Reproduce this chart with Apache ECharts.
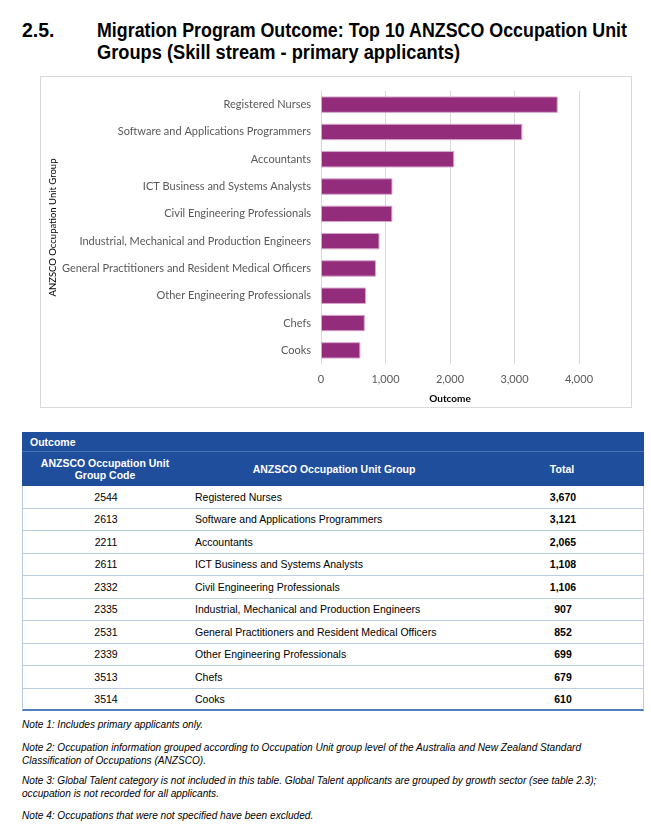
<!DOCTYPE html>
<html>
<head>
<meta charset="utf-8">
<script src="https://cdn.jsdelivr.net/npm/echarts@6/dist/echarts.min.js"></script>
<style>
  html, body { margin: 0; padding: 0; background: #fff; }
  body { width: 651px; height: 829px; position: relative; overflow: hidden; font-family: "Liberation Sans", Arial, sans-serif; }
  .title { position: absolute; font-weight: bold; font-size: 19.5px; color: #000; white-space: nowrap; line-height: 22px; transform-origin: 0 50%; }
  #chartBox { position: absolute; left: 40px; top: 76px; width: 590px; height: 330px; border: 1px solid #d9d9d9; }
  #chart { width: 590px; height: 330px; }
  #table { position: absolute; left: 22px; top: 432px; width: 622px; }
  .row { position: absolute; left: 0; width: 622px; box-sizing: border-box; }
  .cell { position: absolute; top: 0; height: 100%; display: flex; align-items: center; box-sizing: border-box; font-size: 10.5px; color: #000; }
  .note { position: absolute; left: 22px; font-size: 10.1px; font-style: italic; color: #000; line-height: 13px; white-space: nowrap; }
</style>
</head>
<body>
<div class="title" style="left:22px; top:19px;">2.5.</div>
<div class="title" id="t1" style="left:97px; top:19px;">Migration Program Outcome: Top 10 ANZSCO Occupation Unit</div>
<div class="title" id="t2" style="left:97px; top:41px;">Groups (Skill stream - primary applicants)</div>

<div id="chartBox"><div id="chart"></div></div>

<div id="table"></div>

<div class="note" style="top:718px;">Note 1: Includes primary applicants only.</div>
<div class="note" style="top:741px;">Note 2: Occupation information grouped according to Occupation Unit group level of the Australia and New Zealand Standard<br>Classification of Occupations (ANZSCO).</div>
<div class="note" style="top:774px;">Note 3: Global Talent category is not included in this table. Global Talent applicants are grouped by growth sector (see table 2.3);<br>occupation is not recorded for all applicants.</div>
<div class="note" style="top:809px;">Note 4: Occupations that were not specified have been excluded.</div>

<script>
const categories = [
  'Registered Nurses',
  'Software and Applications Programmers',
  'Accountants',
  'ICT Business and Systems Analysts',
  'Civil Engineering Professionals',
  'Industrial, Mechanical and Production Engineers',
  'General Practitioners and Resident Medical Officers',
  'Other Engineering Professionals',
  'Chefs',
  'Cooks'
];
const codes = ['2544', '2613', '2211', '2611', '2332', '2335', '2531', '2339', '3513', '3514'];
const totals = [3670, 3121, 2065, 1108, 1106, 907, 852, 699, 679, 610];
const xTicks = [0, 1000, 2000, 3000, 4000];

const fmt = v => v.toLocaleString('en-US');

// Title condensing to match the reference widths
[['t1', 530], ['t2', 363]].forEach(([id, w]) => {
  const el = document.getElementById(id);
  const nat = el.getBoundingClientRect().width;
  el.style.transform = 'scaleX(' + (w / nat) + ')';
});

// Table
const tbl = document.getElementById('table');
const blue = '#1f4e9c';
const lineBlue = '#b8cce4';
function addRow(top, h, bg, cells, border) {
  const r = document.createElement('div');
  r.className = 'row';
  r.style.top = top + 'px';
  r.style.height = h + 'px';
  r.style.background = bg;
  if (border) r.style.borderBottom = border;
  cells.forEach(c => {
    const d = document.createElement('div');
    d.className = 'cell';
    d.style.left = c.left + 'px';
    d.style.width = c.width + 'px';
    d.style.justifyContent = c.align || 'center';
    d.style.textAlign = c.align === 'flex-start' ? 'left' : 'center';
    if (c.pad) d.style.paddingLeft = c.pad + 'px';
    if (c.bold) d.style.fontWeight = 'bold';
    if (c.color) d.style.color = c.color;
    d.style.lineHeight = '12px';
    d.innerHTML = c.text;
    r.appendChild(d);
  });
  tbl.appendChild(r);
  return r;
}
addRow(0, 20, blue, [{left: 0, width: 300, text: 'Outcome', align: 'flex-start', pad: 8, bold: true, color: '#fff'}], '1px solid #4a74b8');
addRow(20, 34, blue, [
  {left: 0, width: 166, text: 'ANZSCO Occupation Unit<br>Group Code', bold: true, color: '#fff'},
  {left: 166, width: 292, text: 'ANZSCO Occupation Unit Group', bold: true, color: '#fff'},
  {left: 458, width: 164, text: 'Total', bold: true, color: '#fff'}
]);
const rowH = 22.5;
categories.forEach((name, i) => {
  const last = i === categories.length - 1;
  const r = addRow(54 + i * rowH, rowH, '#fff', [
    {left: 0, width: 166, text: codes[i]},
    {left: 166, width: 292, text: name, align: 'flex-start', pad: 6},
    {left: 458, width: 164, text: fmt(totals[i]), bold: true}
  ], last ? '2px solid #4f7fbf' : '1px solid ' + lineBlue);
  r.style.borderLeft = '1px solid ' + lineBlue;
  r.style.borderRight = '1px solid ' + lineBlue;
});

// Chart
const chart = echarts.init(document.getElementById('chart'), null, {renderer: 'canvas'});
const lblFont = 'Lato, "Open Sans", sans-serif';
chart.setOption({
  animation: false,
  grid: {left: 280, right: 52, top: 14, bottom: 43, outerBoundsMode: 'none', containLabel: false},
  xAxis: {
    type: 'value',
    min: xTicks[0],
    max: xTicks[xTicks.length - 1],
    interval: 1000,
    name: 'Outcome',
    nameLocation: 'middle',
    nameGap: 30,
    nameTextStyle: {color: '#000', fontSize: 10, fontFamily: lblFont, fontWeight: 'bold'},
    axisLine: {show: false},
    axisTick: {show: false},
    axisLabel: {color: '#595959', fontSize: 11, fontFamily: lblFont, margin: 10, formatter: v => fmt(v)},
    splitLine: {lineStyle: {color: '#d9d9d9', width: 1}}
  },
  yAxis: {
    type: 'category',
    data: categories,
    inverse: true,
    name: 'ANZSCO Occupation Unit Group',
    nameLocation: 'middle',
    nameRotate: 90,
    nameGap: 251,
    nameTextStyle: {color: '#000', fontSize: 9.5, fontFamily: lblFont},
    axisLine: {show: true, lineStyle: {color: '#d9d9d9'}},
    axisTick: {show: false},
    axisLabel: {color: '#595959', fontSize: 11, fontFamily: lblFont, margin: 10}
  },
  series: [{
    type: 'bar',
    data: totals,
    barCategoryGap: '40%',
    itemStyle: {color: '#922c7b', borderColor: '#d7a6cc', borderWidth: 1}
  }]
});
</script>
</body>
</html>
